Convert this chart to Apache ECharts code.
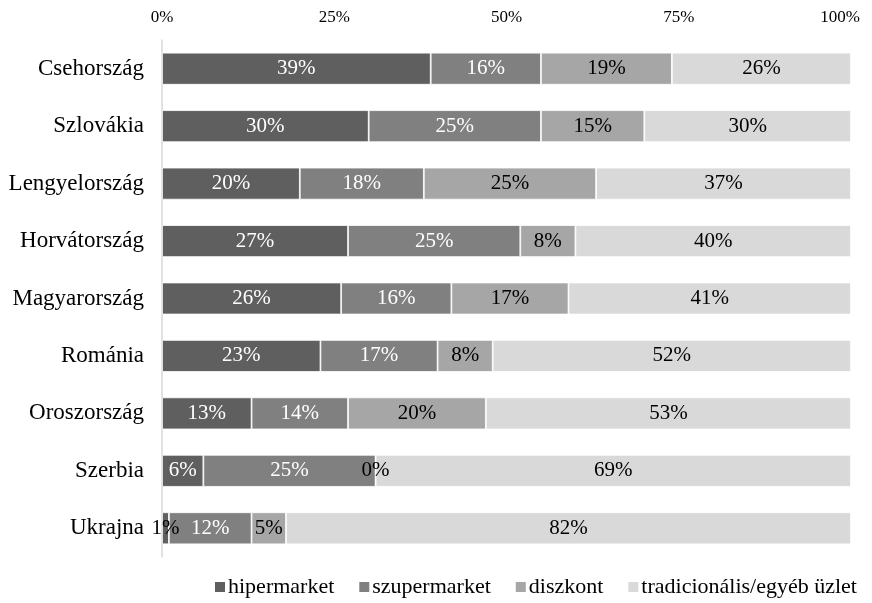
<!DOCTYPE html>
<html>
<head>
<meta charset="utf-8">
<script src="https://cdn.jsdelivr.net/npm/echarts@6/dist/echarts.min.js"></script>
<style>
  html, body { margin: 0; padding: 0; background: #ffffff; }
  #chart { width: 872px; height: 603px; }
</style>
</head>
<body>
<div id="chart"></div>
<script>
// Bolti forgalom megoszlása csatornánként (%)
const countries = ['Csehország', 'Szlovákia', 'Lengyelország', 'Horvátország', 'Magyarország', 'Románia', 'Oroszország', 'Szerbia', 'Ukrajna'];
const hipermarket = [39, 30, 20, 27, 26, 23, 13, 6, 1];
const szupermarket = [16, 25, 18, 25, 16, 17, 14, 25, 12];
const diszkont = [19, 15, 25, 8, 17, 8, 20, 0, 5];
const tradicionalis = [26, 30, 37, 40, 41, 52, 53, 69, 82];
const seriesNames = ['hipermarket', 'szupermarket', 'diszkont', 'tradicionális/egyéb üzlet'];
const axisTicks = [0, 25, 50, 75, 100];

const FONT = '"Liberation Serif", "Times New Roman", serif';
const colors = ['#5f5f5f', '#808080', '#a6a6a6', '#d9d9d9'];
const labelColors = ['#ffffff', '#ffffff', '#000000', '#000000'];

function makeSeries(name, values, idx) {
  return {
    name: name,
    type: 'bar',
    stack: 'total',
    barWidth: 32,
    itemStyle: { color: colors[idx], borderColor: '#ffffff', borderWidth: 0.8 },
    label: {
      show: true,
      position: 'inside',
      formatter: '{c}%',
      fontFamily: FONT,
      fontSize: 21,
      color: labelColors[idx]
    },
    emphasis: { disabled: true },
    // a narrow 1% segment gets a dark label so it stays readable beside the bar
    data: values.map(function (v) {
      if (idx === 0 && v < 3) {
        return { value: v, label: { color: '#000000' } };
      }
      return v;
    })
  };
}

const chart = echarts.init(document.getElementById('chart'), null, { renderer: 'canvas' });
chart.setOption({
  animation: false,
  backgroundColor: '#ffffff',
  grid: { left: 162, right: 21, top: 40, bottom: 46, containLabel: false },
  legend: {
    bottom: 0,
    left: 208,
    itemWidth: 12,
    itemHeight: 12,
    itemGap: 23,
    icon: 'rect',
    textStyle: { fontFamily: FONT, fontSize: 22, color: '#000000', padding: [0, 0, 0, -3] },
    data: seriesNames
  },
  xAxis: {
    type: 'value',
    position: 'top',
    min: axisTicks[0],
    max: axisTicks[axisTicks.length - 1],
    interval: 25,
    axisLine: { show: false },
    axisTick: { show: false },
    splitLine: { show: false },
    axisLabel: {
      // the last label is nudged left so it stays inside the canvas
      formatter: function (v) {
        return v === axisTicks[axisTicks.length - 1] ? '{last|' + v + '%}' : v + '%';
      },
      rich: {
        last: { fontFamily: FONT, fontSize: 17, color: '#000000', padding: [0, 22, 0, 0] }
      },
      fontFamily: FONT,
      fontSize: 17,
      color: '#000000',
      margin: 14
    }
  },
  yAxis: {
    type: 'category',
    inverse: true,
    data: countries,
    axisLine: { show: true, lineStyle: { color: '#d9d9d9', width: 1.5 } },
    axisTick: { show: false },
    axisLabel: { fontFamily: FONT, fontSize: 23, color: '#000000', margin: 18 }
  },
  series: [
    makeSeries(seriesNames[0], hipermarket, 0),
    makeSeries(seriesNames[1], szupermarket, 1),
    makeSeries(seriesNames[2], diszkont, 2),
    makeSeries(seriesNames[3], tradicionalis, 3)
  ]
});
</script>
</body>
</html>
